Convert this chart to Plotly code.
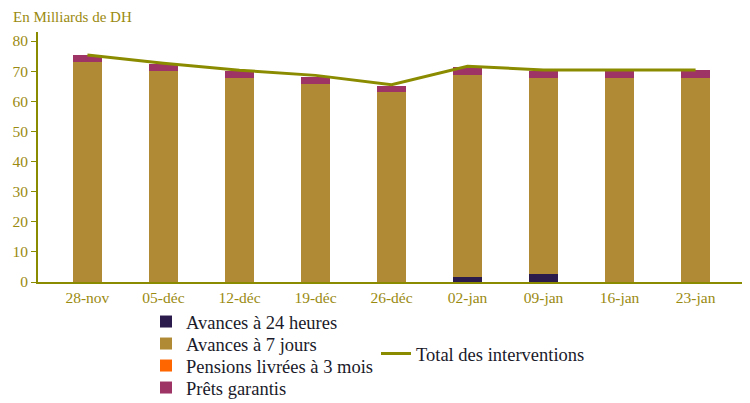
import plotly.graph_objects as go

categories = ["28-nov", "05-déc", "12-déc", "19-déc", "26-déc", "02-jan", "09-jan", "16-jan", "23-jan"]
avances_24h = [0, 0, 0, 0, 0, 1.7, 2.8, 0, 0]
avances_7j = [73.1, 70.0, 67.8, 65.7, 63.1, 67.1, 65.0, 67.8, 67.8]
pensions_3m = [0, 0, 0, 0, 0, 0, 0, 0, 0]
prets_garantis = [2.1, 2.3, 2.3, 2.4, 1.9, 2.6, 2.3, 2.3, 2.6]
total = [75.4, 72.6, 70.3, 68.6, 65.5, 71.6, 70.4, 70.4, 70.4]

y_ticks = [0, 10, 20, 30, 40, 50, 60, 70, 80]

olive = "#8B8B00"
tick_col = "#9A8A10"
text_col = "#1A1A2A"
serif = "Liberation Serif, Times New Roman, serif"

# The page body has an 8px margin; the figure is sized to fit the 750x403 window.
W, H = 742, 395

fig = go.Figure()
fig.add_trace(go.Bar(x=categories, y=avances_24h, name="Avances à 24 heures",
                     marker=dict(color="#2B1A4C", line=dict(width=0)), legend="legend"))
fig.add_trace(go.Bar(x=categories, y=avances_7j, name="Avances à 7 jours",
                     marker=dict(color="#B08A35", line=dict(width=0)), legend="legend3"))
fig.add_trace(go.Bar(x=categories, y=pensions_3m, name="Pensions livrées à 3 mois",
                     marker=dict(color="#FF6600", line=dict(width=0)), legend="legend4"))
fig.add_trace(go.Bar(x=categories, y=prets_garantis, name="Prêts garantis",
                     marker=dict(color="#9E3466", line=dict(width=0)), legend="legend5"))
fig.add_trace(go.Scatter(x=categories, y=total, name="Total des interventions",
                         mode="lines", line=dict(color=olive, width=3), legend="legend2"))

leg_font = dict(family=serif, size=18.5, color=text_col)


def leg(xpix, ypix):
    return dict(x=xpix / W, y=1 - ypix / H, xref="container", yref="container",
                xanchor="left", yanchor="middle", font=leg_font,
                bgcolor="rgba(0,0,0,0)")


fig.update_layout(
    width=W, height=H,
    barmode="stack",
    bargap=0.61,
    plot_bgcolor="white", paper_bgcolor="white",
    margin=dict(l=30, r=5, t=24, b=121, autoexpand=False),
    font=dict(family=serif, size=15, color=tick_col),
    showlegend=True,
    legend=leg(138, 314),
    legend3=leg(138, 336),
    legend4=leg(138, 358),
    legend5=leg(138, 380),
    legend2=leg(368, 346),
)
fig.add_annotation(text="En Milliards de DH", xref="paper", yref="paper",
                   x=(4 - 30) / 707, y=1 + 24 / 250, xanchor="left", yanchor="top",
                   showarrow=False, borderpad=0,
                   font=dict(family=serif, size=15, color=tick_col))

fig.update_xaxes(range=[-0.65, 8.65], showline=True, linecolor=olive, linewidth=2,
                 ticks="", showgrid=False, tickfont=dict(family=serif, size=15.5, color=tick_col))
fig.update_yaxes(range=[0, 83], tickvals=y_ticks, showline=True, linecolor=olive, linewidth=2,
                 ticks="outside", ticklen=5, tickcolor=olive, showgrid=False, zeroline=False,
                 tickfont=dict(family=serif, size=15.5, color=tick_col))

fig.write_html("out.html")
